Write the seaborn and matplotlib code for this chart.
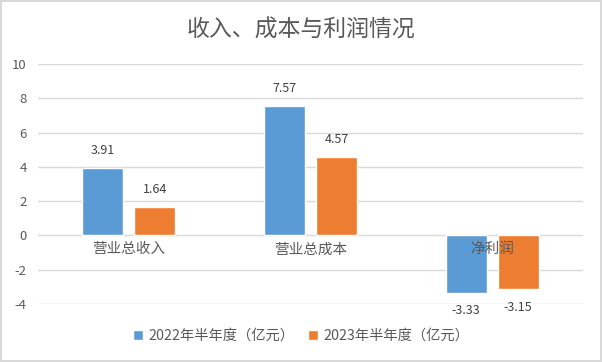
import pandas as pd
import matplotlib
matplotlib.use("Agg")
import matplotlib.pyplot as plt
import seaborn as sns

# chart values (亿元)
categories = ["营业总收入", "营业总成本", "净利润"]
series_names = ["2022年半年度（亿元）", "2023年半年度（亿元）"]
values_2022 = [3.91, 7.57, -3.33]
values_2023 = [1.64, 4.57, -3.15]
y_ticks = [-4, -2, 0, 2, 4, 6, 8, 10]

df = pd.DataFrame({
    "category": categories * 2,
    "series": [series_names[0]] * 3 + [series_names[1]] * 3,
    "value": values_2022 + values_2023,
})

sns.set_theme(style="white")
plt.rcParams["font.family"] = ["Noto Sans CJK SC", "DejaVu Sans"]
plt.rcParams["axes.unicode_minus"] = False

text_color = "#595959"
grid_color = "#D9D9D9"
palette = ["#5B9BD5", "#ED7D31"]

fig = plt.figure(figsize=(6.02, 3.62), dpi=100)
fig.patch.set_edgecolor("#D9D9D9")
fig.patch.set_linewidth(1.5)
ax = fig.add_axes([38 / 602, 58 / 362, 545 / 602, 240 / 362])

sns.barplot(data=df, x="category", y="value", hue="series", palette=palette,
            width=0.572, gap=0.21, ax=ax, legend=True, saturation=1)

ax.set_ylim(-4, 10)
ax.set_yticks(y_ticks)
ax.set_yticklabels([str(t) for t in y_ticks], color=text_color, fontsize=9.5)
ax.tick_params(axis="y", length=0, pad=8)
ax.set_xlim(-0.5, len(categories) - 0.5)
ax.set_xticks([])
ax.set_xlabel("")
ax.set_ylabel("")
ax.grid(axis="y", color=grid_color, linewidth=1)
ax.set_axisbelow(True)
for s in ax.spines.values():
    s.set_visible(False)

# category labels sit just under the zero line
for i, c in enumerate(categories):
    ax.annotate(c, (i, 0), xytext=(0, -5), textcoords="offset points",
                ha="center", va="top", fontsize=10.5, color=text_color)

for cont in ax.containers:
    ax.bar_label(cont, fmt="%.2f", padding=8, fontsize=9, color="#404040")

leg = ax.legend(loc="center", bbox_to_anchor=(0.5, 26 / 362), bbox_transform=fig.transFigure,
                ncol=2, frameon=False, fontsize=10.3, handlelength=0.7, handleheight=0.7,
                handletextpad=0.4, columnspacing=0.9)
for t in leg.get_texts():
    t.set_color(text_color)

fig.text(0.5, 1 - 30 / 362, "收入、成本与利润情况", ha="center", va="center",
         fontsize=16.5, color=text_color)

fig.savefig("out.png", dpi=100)
